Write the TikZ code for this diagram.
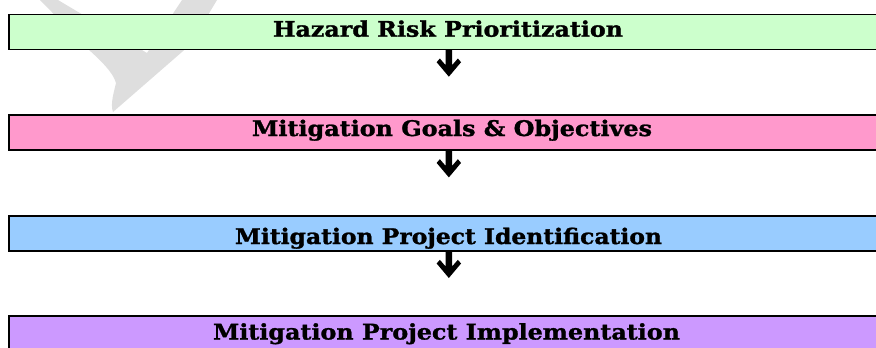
\documentclass[tikz,border=0pt]{standalone}
\usepackage{fontspec}
\setmainfont{DejaVu Serif}[BoldFeatures={FakeBold=1.2}]
\usetikzlibrary{calc}
\definecolor{boxgreen}{HTML}{CCFFCC}
\definecolor{boxpink}{HTML}{FF99CC}
\definecolor{boxblue}{HTML}{99CCFF}
\definecolor{boxpurple}{HTML}{CC99FF}
\definecolor{wmark}{HTML}{DEDEDE}
\tikzset{
  stagebox/.style={draw=black, line width=1.7pt, minimum width=879.6pt, minimum height=35pt, anchor=north west, inner sep=0pt},
  lbl/.style={anchor=base, inner sep=0pt, font=\fontsize{21.5}{25}\selectfont\bfseries},
  downarrow/.style={fill=black}
}
\newcommand{\chev}[1]{%
  \fill[downarrow] ($(#1)+(-3.2,-1)$) -- ($(#1)+(3.2,-1)$) -- ($(#1)+(3.2,15)$) -- ($(#1)+(9,8.3)$) -- ($(#1)+(12.2,12)$) -- ($(#1)+(0,26.5)$) -- ($(#1)+(-12.2,12)$) -- ($(#1)+(-9,8.3)$) -- ($(#1)+(-3.2,15)$) -- cycle;}
\begin{document}
\begin{tikzpicture}[x=1pt,y=-1pt]
\useasboundingbox (0,0) rectangle (876,348);
\clip (0,0) rectangle (876,348);
% watermark fragment
\fill[wmark] (40,0) -- (58,0) -- (147,53) -- (182,0) -- (217,0) -- (190,45) -- (113,112)
  .. controls (110,104) and (114,92) .. (116,83) .. controls (113,72) and (100,60) .. (88,49) -- cycle;
% boxes
\node[stagebox, fill=boxgreen] (b1) at (8.2,13.5) {};
\node[stagebox, fill=boxpink] (b2) at (8.2,114.2) {};
\node[stagebox, fill=boxblue] (b3) at (8.2,214.8) {};
\node[stagebox, fill=boxpurple] (b4) at (8.2,315.3) {};
% labels
\node[lbl] (l1) at (448,36.7) {\resizebox{350pt}{\height}{Hazard Risk Prioritization}};
\node[lbl] (l2) at (452,136) {\resizebox{400pt}{\height}{Mitigation Goals \& Objectives}};
\node[lbl] (l3) at (448.5,244) {\resizebox{427pt}{\height}{Mitigation Project Identification}};
\node[lbl] (l4) at (446.5,339.5) {\resizebox{467pt}{\height}{Mitigation Project Implementation}};
% connectors
\coordinate (a1) at (b1.south);
\coordinate (a2) at (b2.south);
\coordinate (a3) at (b3.south);
\chev{a1}
\chev{a2}
\chev{a3}
\end{tikzpicture}
\end{document}
